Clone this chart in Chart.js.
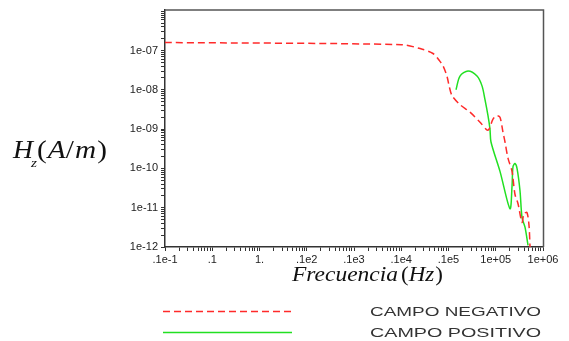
<!DOCTYPE html>
<html>
<head>
<meta charset="utf-8">
<script src="https://cdn.jsdelivr.net/npm/chart.js@4.4.1/dist/chart.umd.min.js"></script>
<style>
  html, body { margin: 0; padding: 0; background: #fff; }
  #wrap { width: 569px; height: 341px; }
</style>
</head>
<body>
<div id="wrap"><canvas id="chart" width="569" height="341"></canvas></div>
<script>
// --- datos: frecuencia (Hz) y Hz (A/m) ---
const freqNegativo = [0.01, 1000, 2500, 4700, 6600, 7700, 9300, 10300, 11900, 17500, 28500, 46500, 68500,
  87500, 106000, 123000, 142000, 157000, 182000, 221000, 255000, 296000, 360000, 396000, 458000, 506000, 531000];
const campoNegativo = [1.6e-7, 1.41e-7, 1.12e-7, 8.4e-8, 5.3e-8, 4.0e-8, 2.2e-8, 1.26e-8, 7.1e-9, 4.2e-9, 2.7e-9, 1.5e-9, 9.4e-10,
  1.8e-9, 2.2e-9, 2.0e-9, 8.4e-10, 4.7e-10, 1.8e-10, 8.4e-11, 2.2e-11, 1.26e-11, 4.2e-12, 7.1e-12, 7.5e-12, 3.5e-12, 1e-12];

const freqPositivo = [14400, 17500, 25900, 40100, 51200, 59200, 68500, 75500, 79300, 123000,
  200000, 221000, 232000, 255000, 282000, 326000, 360000, 416000, 482000];
const campoPositivo = [1.0e-8, 2.24e-8, 3.0e-8, 2.24e-8, 1.26e-8, 5.6e-9, 2.2e-9, 1.0e-9, 4.7e-10, 8.4e-11,
  9.4e-12, 3.5e-11, 1.12e-10, 1.33e-10, 1.0e-10, 2.7e-11, 5.6e-12, 3.2e-12, 1.1e-12];

const seriesLabels = ['CAMPO NEGATIVO', 'CAMPO POSITIVO'];

// --- ejes ---
const xDecades = [-2, -1, 0, 1, 2, 3, 4, 5, 6];
const xTickLabels = ['.1e-1', '.1', '1.', '.1e2', '.1e3', '.1e4', '.1e5', '1e+05', '1e+06'];
const yDecades = [-12, -11, -10, -9, -8, -7];
const yTickLabels = ['1e-12', '1e-11', '1e-10', '1e-09', '1e-08', '1e-07'];

const AREA = { left: 165, top: 5, right: 543, bottom: 247 };

function toPoints(xs, ys) {
  return xs.map((x, i) => ({ x: x, y: ys[i] }));
}

// marcas 1..9 por década
function logTicks(minExp, maxExp) {
  const t = [];
  for (let e = minExp; e < maxExp; e++) {
    for (let m = 1; m < 10; m++) t.push({ value: m * Math.pow(10, e) });
  }
  t.push({ value: Math.pow(10, maxExp) });
  return t;
}

function decadeLabel(value, decades, labels) {
  const e = Math.log10(value);
  const r = Math.round(e);
  if (Math.abs(e - r) > 1e-6) return '';
  const i = decades.indexOf(r);
  return i < 0 ? '' : labels[i];
}

const tickFont = { family: '"Liberation Sans", Arial, sans-serif', size: 11 };
const serif = '"Liberation Serif", "Times New Roman", serif';

// dibuja trozos de texto seguidos, estirados para ocupar [x0, x1]
function drawRun(ctx, pieces, x0, x1, baseline) {
  let w = 0;
  pieces.forEach(p => { ctx.font = p.font; w += ctx.measureText(p.t).width + (p.gap || 0); });
  const s = (x1 - x0) / w;
  ctx.save();
  ctx.translate(x0, baseline);
  ctx.scale(s, 1);
  let x = 0;
  pieces.forEach(p => {
    ctx.font = p.font;
    ctx.fillText(p.t, x, p.dy || 0);
    x += ctx.measureText(p.t).width + (p.gap || 0);
  });
  ctx.restore();
}

// marco + títulos + leyenda
const decorPlugin = {
  id: 'decor',
  afterDraw(chart) {
    const ctx = chart.ctx;
    const a = chart.chartArea;
    ctx.save();

    // marco superior y derecho
    ctx.strokeStyle = '#555';
    ctx.lineWidth = 1.5;
    ctx.beginPath();
    ctx.moveTo(a.left, a.top + 0.5);
    ctx.lineTo(a.right + 0.5, a.top + 0.5);
    ctx.lineTo(a.right + 0.5, a.bottom);
    ctx.stroke();

    ctx.fillStyle = '#111';
    ctx.textBaseline = 'alphabetic';
    ctx.textAlign = 'left';

    // título eje Y: Hz(A/m)
    drawRun(ctx, [{ t: 'H', font: 'italic 26px ' + serif }], 13, 33, 158);
    drawRun(ctx, [{ t: 'z', font: 'italic 13px ' + serif }], 31, 37, 167);
    drawRun(ctx, [
      { t: '(', font: '26px ' + serif, gap: 1 },
      { t: 'A', font: 'italic 26px ' + serif },
      { t: '/', font: '26px ' + serif, gap: 1 },
      { t: 'm', font: 'italic 26px ' + serif, gap: 1 },
      { t: ')', font: '26px ' + serif }
    ], 37, 107, 158);

    // título eje X: Frecuencia(Hz)
    drawRun(ctx, [{ t: 'Frecuencia', font: 'italic 21px ' + serif }], 292, 398, 281);
    drawRun(ctx, [
      { t: '(', font: '21px ' + serif },
      { t: 'Hz', font: 'italic 21px ' + serif, gap: 1 },
      { t: ')', font: '21px ' + serif }
    ], 401, 443, 281);

    // leyenda
    const rows = [311, 332];
    chart.data.datasets.forEach((ds, i) => {
      const y = rows[i] + 0.5;
      ctx.strokeStyle = ds.borderColor;
      ctx.lineWidth = 1.5;
      ctx.setLineDash(ds.borderDash || []);
      ctx.beginPath();
      ctx.moveTo(163, y);
      ctx.lineTo(292, y);
      ctx.stroke();
      ctx.setLineDash([]);

      ctx.fillStyle = '#333';
      drawRun(ctx, [{ t: ds.label, font: '12px "Liberation Sans", Arial, sans-serif' }], 370, 541, rows[i] + 4.5);
    });

    ctx.restore();
  }
};

const chart = new Chart(document.getElementById('chart').getContext('2d'), {
  type: 'scatter',
  data: {
    datasets: [
      {
        label: seriesLabels[0],
        data: toPoints(freqNegativo, campoNegativo),
        showLine: true,
        borderColor: '#ff2a2a',
        borderWidth: 1.5,
        borderDash: [7, 4],
        pointRadius: 0,
        tension: 0.3,
        fill: false
      },
      {
        label: seriesLabels[1],
        data: toPoints(freqPositivo, campoPositivo),
        showLine: true,
        borderColor: '#22e022',
        borderWidth: 1.5,
        pointRadius: 0,
        tension: 0.3,
        fill: false
      }
    ]
  },
  options: {
    responsive: false,
    animation: false,
    layout: { padding: { left: 0, top: AREA.top, right: 569 - AREA.right, bottom: 72 } },
    plugins: {
      legend: { display: false },
      tooltip: { enabled: false }
    },
    scales: {
      x: {
        type: 'logarithmic',
        min: 0.01,
        max: 1e6,
        afterBuildTicks: (scale) => { scale.ticks = logTicks(-2, 6); },
        afterFit: (scale) => { scale.height = 22; },
        border: { display: true, color: '#333', width: 1.5 },
        grid: { drawOnChartArea: false, drawTicks: true, tickLength: 4, tickColor: '#333' },
        ticks: {
          autoSkip: false,
          maxRotation: 0,
          minRotation: 0,
          padding: 2,
          color: '#222',
          font: tickFont,
          callback: (v) => decadeLabel(v, xDecades, xTickLabels)
        }
      },
      y: {
        type: 'logarithmic',
        min: 1e-12,
        max: 1.1e-6,
        afterBuildTicks: (scale) => { scale.ticks = logTicks(-12, -6); },
        afterFit: (scale) => { scale.width = AREA.left; },
        border: { display: true, color: '#333', width: 1.5 },
        grid: { drawOnChartArea: false, drawTicks: true, tickLength: 4, tickColor: '#333' },
        ticks: {
          autoSkip: false,
          padding: 3,
          color: '#222',
          font: tickFont,
          callback: (v) => decadeLabel(v, yDecades, yTickLabels)
        }
      }
    }
  },
  plugins: [decorPlugin]
});
</script>
</body>
</html>
